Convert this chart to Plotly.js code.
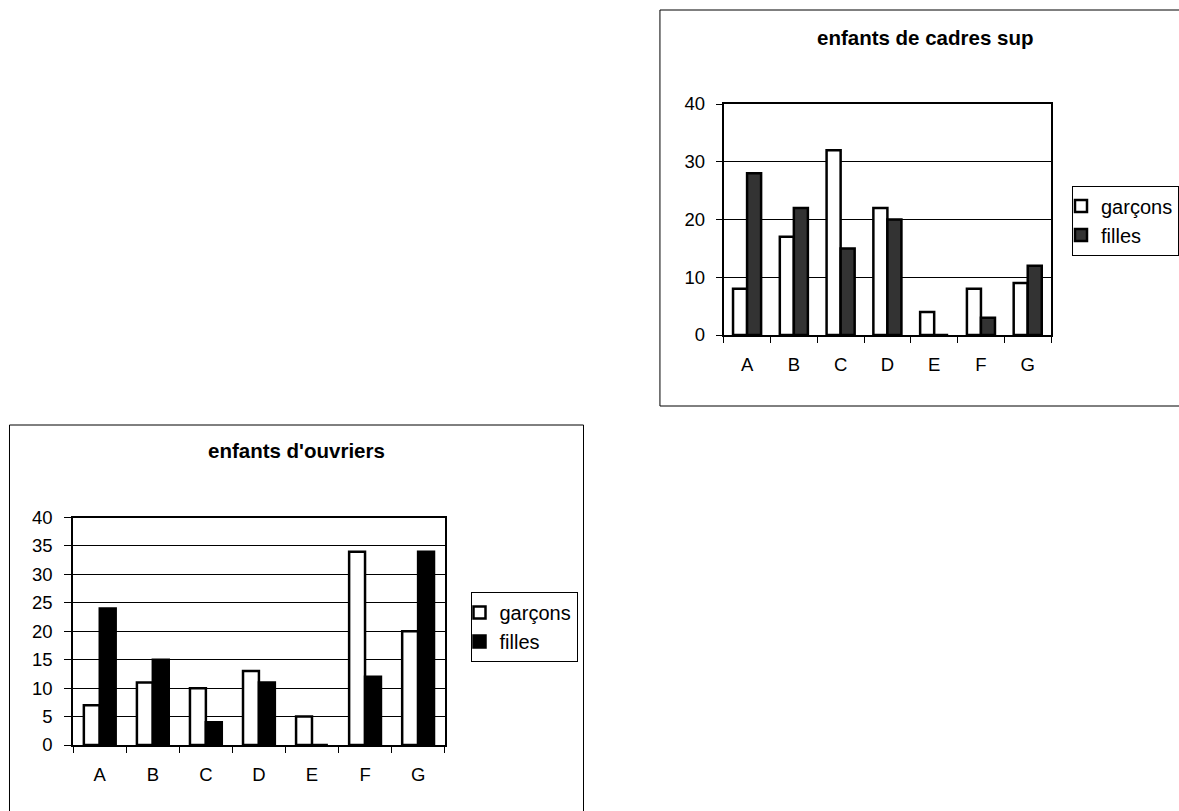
<!DOCTYPE html>
<html>
<head>
<meta charset="utf-8">
<script src="https://cdn.plot.ly/plotly-3.0.1.min.js"></script>
<style>
  html, body { margin: 0; padding: 0; background: #ffffff; }
  #chart { width: 1179px; height: 811px; }
</style>
</head>
<body>
<div id="chart"></div>
<script>
// Categories shared by both panels
const categories = ['A', 'B', 'C', 'D', 'E', 'F', 'G'];

// Panel 1: enfants de cadres sup
const cadresTitle = 'enfants de cadres sup';
const cadresGarcons = [8, 17, 32, 22, 4, 8, 9];
const cadresFilles = [28, 22, 15, 20, 0, 3, 12];

// Panel 2: enfants d'ouvriers
const ouvriersTitle = "enfants d'ouvriers";
const ouvriersGarcons = [7, 11, 10, 13, 5, 34, 20];
const ouvriersFilles = [24, 15, 4, 11, 0, 12, 34];

// Series names
const seriesNames = ['garçons', 'filles'];

const W = 1179, H = 811;
const px = v => v / W;          // horizontal pixel -> paper
const py = v => 1 - v / H;      // vertical pixel (from top) -> paper

const FONT = 'Liberation Sans, Arial, Helvetica, sans-serif';
const outline = { color: '#000000', width: 2.5 };

const traces = [
  { type: 'bar', x: categories, y: cadresGarcons, name: seriesNames[0],
    xaxis: 'x', yaxis: 'y', legend: 'legend', legendgroup: 'c1',
    marker: { color: '#ffffff', line: outline } },
  { type: 'bar', x: categories, y: cadresFilles, name: seriesNames[1],
    xaxis: 'x', yaxis: 'y', legend: 'legend', legendgroup: 'c2',
    marker: { color: '#333333', line: outline } },
  { type: 'bar', x: categories, y: ouvriersGarcons, name: seriesNames[0],
    xaxis: 'x2', yaxis: 'y2', legend: 'legend2', legendgroup: 'o1',
    marker: { color: '#ffffff', line: outline } },
  { type: 'bar', x: categories, y: ouvriersFilles, name: seriesNames[1],
    xaxis: 'x2', yaxis: 'y2', legend: 'legend2', legendgroup: 'o2',
    marker: { color: '#000000', line: outline } }
];

function xAxis(domain, anchor, standoff) {
  return {
    domain: domain, anchor: anchor, type: 'category',
    tickson: 'boundaries', ticks: 'outside', ticklen: 6, tickwidth: 1, tickcolor: '#000',
    showline: true, mirror: true, linewidth: 2, linecolor: '#000',
    showgrid: false, zeroline: false, fixedrange: true,
    ticklabelstandoff: standoff,
    tickfont: { family: FONT, size: 18.5, color: '#000' }
  };
}
function yAxis(domain, anchor, dtick, ticklen, standoff) {
  return {
    domain: domain, anchor: anchor, range: [0, 40], dtick: dtick,
    ticks: 'outside', ticklen: ticklen, tickwidth: 1, tickcolor: '#000',
    showline: true, mirror: true, linewidth: 2, linecolor: '#000',
    showgrid: true, gridcolor: '#000', gridwidth: 1, zeroline: false, fixedrange: true,
    ticklabelstandoff: standoff,
    tickfont: { family: FONT, size: 18.5, color: '#000' }
  };
}
function legendBox(x, y) {
  return {
    x: x, y: y, xanchor: 'left', yanchor: 'top',
    bgcolor: '#ffffff', bordercolor: '#000', borderwidth: 1,
    font: { family: FONT, size: 20, color: '#000' },
    traceorder: 'normal', tracegroupgap: 4, indentation: -12, itemclick: false
  };
}

const layout = {
  width: W, height: H, autosize: false,
  margin: { l: 0, r: 0, t: 0, b: 0, pad: 0 },
  paper_bgcolor: '#ffffff', plot_bgcolor: '#ffffff',
  barmode: 'group', bargap: 0.4, bargroupgap: 0,
  showlegend: true,
  xaxis: xAxis([px(724.3), px(1052)], 'y', 12),
  yaxis: yAxis([py(335), py(104)], 'x', 10, 6, 7),
  xaxis2: xAxis([px(73.3), px(445)], 'y2', 12),
  yaxis2: yAxis([py(745), py(517.5)], 'x2', 5, 7, 8),
  legend: legendBox(px(1073.3), py(185.5)),
  legend2: legendBox(px(470.5), py(592)),
  annotations: [
    { text: '<b>' + cadresTitle + '</b>', xref: 'paper', yref: 'paper',
      x: px(925.5), y: py(38), xanchor: 'center', yanchor: 'middle', showarrow: false,
      font: { family: FONT, size: 20.5, color: '#000' } },
    { text: '<b>' + ouvriersTitle + '</b>', xref: 'paper', yref: 'paper',
      x: px(297), y: py(451), xanchor: 'center', yanchor: 'middle', showarrow: false,
      font: { family: FONT, size: 20.5, color: '#000' } }
  ],
  shapes: [
    // chart frames
    { type: 'rect', xref: 'paper', yref: 'paper', layer: 'below',
      x0: px(660.5), x1: px(1190), y0: py(406), y1: py(10),
      line: { color: '#000', width: 1 }, fillcolor: 'rgba(0,0,0,0)' },
    { type: 'rect', xref: 'paper', yref: 'paper', layer: 'below',
      x0: px(9.5), x1: px(584), y0: py(820), y1: py(425),
      line: { color: '#000', width: 1 }, fillcolor: 'rgba(0,0,0,0)' }
  ]
};

Plotly.newPlot('chart', traces, layout, { displayModeBar: false, staticPlot: true });
</script>
</body>
</html>
